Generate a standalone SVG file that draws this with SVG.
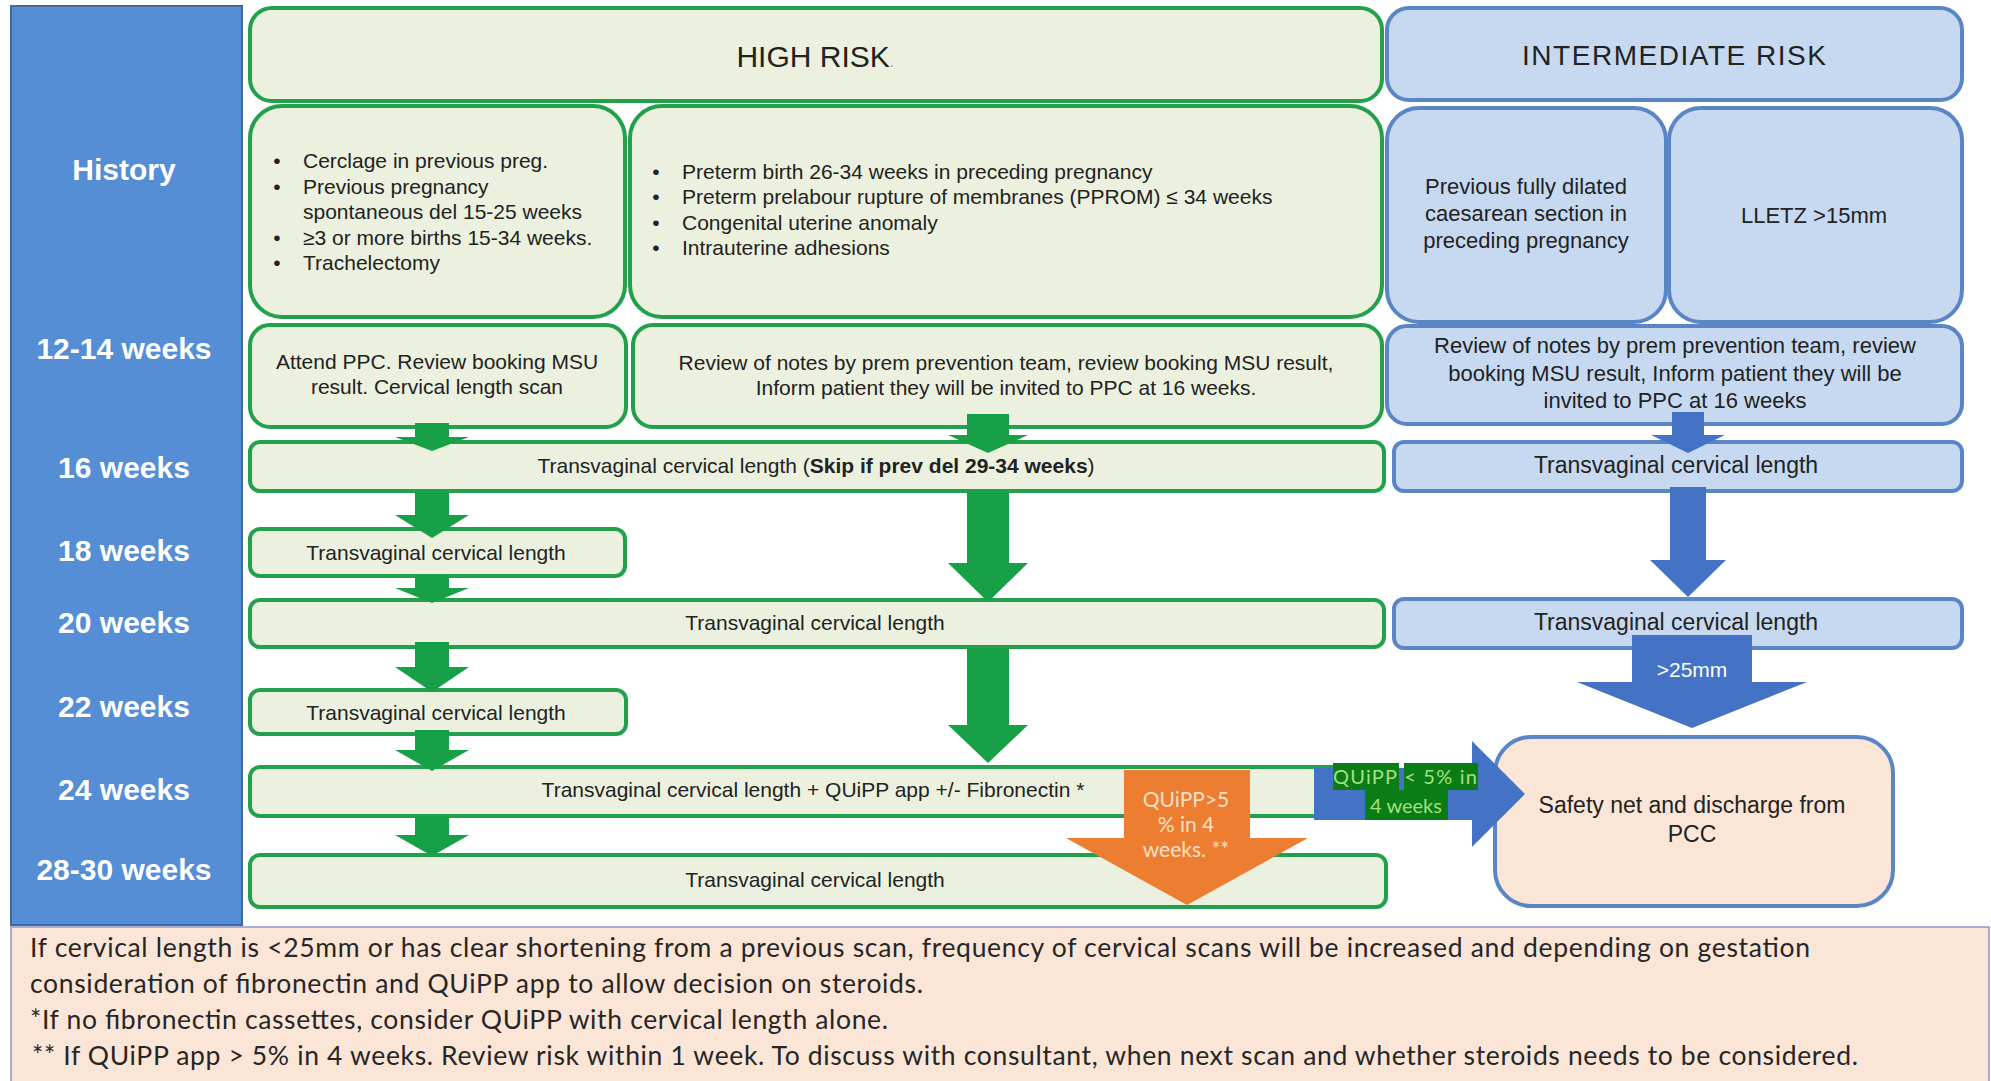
<svg xmlns="http://www.w3.org/2000/svg" width="1991" height="1081" viewBox="0 0 1991 1081" xml:space="preserve">
<defs>
<style>
.gbox{fill:#ebf1de;stroke:#22a04b;stroke-width:4}
.bbox{fill:#c6d9f1;stroke:#5a86c6;stroke-width:4}
.pbox{fill:#fbe5d6;stroke:#5a86c6;stroke-width:4}
.t{font-family:"Liberation Sans",Arial,sans-serif;fill:#222;font-size:21px}
.tc{text-anchor:middle}
.s22{font-size:22px}
.s23{font-size:23px}
.s28{font-size:28px}
.s30{font-size:30px}
.lbl{font-family:"Liberation Sans",Arial,sans-serif;font-weight:bold;font-size:30px;fill:#fff;text-anchor:middle}
.note{font-family:Lato,"Open Sans",sans-serif;font-size:26.5px;fill:#262626}
.garrow{fill:#17a048}
.barrow{fill:#4472c4}
.oarrow{fill:#ed7d31}
.otxt{font-family:Lato,"Open Sans",sans-serif;font-size:21px;fill:#fbe0c8;text-anchor:middle}
.qtxt{font-family:Lato,"Open Sans",sans-serif;font-size:20px;fill:#a3e07f;text-anchor:middle}
</style>
</defs>
<rect x="0" y="0" width="1991" height="1081" fill="#ffffff"/>

<g id="timeline">
<rect x="11" y="6" width="231" height="919" fill="#558ed5" stroke="#41699f" stroke-width="2"/>
<text class="lbl" x="124" y="180">History</text>
<text class="lbl" x="124" y="359">12-14 weeks</text>
<text class="lbl" x="124" y="478">16 weeks</text>
<text class="lbl" x="124" y="561">18 weeks</text>
<text class="lbl" x="124" y="633">20 weeks</text>
<text class="lbl" x="124" y="717">22 weeks</text>
<text class="lbl" x="124" y="800">24 weeks</text>
<text class="lbl" x="124" y="880">28-30 weeks</text>
</g>

<g id="high-risk-header">
<rect class="gbox" x="250" y="8" width="1132" height="93" rx="22"/>
<text class="t tc s30" x="815" y="67">HIGH RISK<tspan style="font-size:14px;fill:#888">.</tspan></text>
</g>
<g id="intermediate-risk-header">
<rect class="bbox" x="1387" y="8" width="575" height="92" rx="22"/>
<text class="t tc s28" x="1674" y="65" textLength="304">INTERMEDIATE RISK</text>
</g>

<g id="history-high-1">
<rect class="gbox" x="250" y="106" width="375" height="211" rx="32"/>
<text class="t tc" x="277" y="168">•</text><text class="t" x="303" y="168">Cerclage  in previous  preg.</text>
<text class="t tc" x="277" y="194">•</text><text class="t" x="303" y="194">Previous  pregnancy</text>
<text class="t" x="303" y="219">spontaneous  del  15-25 weeks</text>
<text class="t tc" x="277" y="245">•</text><text class="t" x="303" y="245">≥3 or more births 15-34 weeks.</text>
<text class="t tc" x="277" y="270">•</text><text class="t" x="303" y="270">Trachelectomy</text>
</g>
<g id="history-high-2">
<rect class="gbox" x="630" y="106" width="752" height="211" rx="32"/>
<text class="t tc" x="656" y="179">•</text><text class="t" x="682" y="179">Preterm birth 26-34  weeks in preceding  pregnancy</text>
<text class="t tc" x="656" y="204">•</text><text class="t" x="682" y="204">Preterm prelabour  rupture of membranes  (PPROM) ≤ 34 weeks</text>
<text class="t tc" x="656" y="230">•</text><text class="t" x="682" y="230">Congenital  uterine anomaly</text>
<text class="t tc" x="656" y="255">•</text><text class="t" x="682" y="255">Intrauterine  adhesions</text>
</g>
<g id="history-int-1">
<rect class="bbox" x="1387" y="108" width="279" height="214" rx="32"/>
<text class="t tc s22" x="1526" y="194">Previous fully dilated</text>
<text class="t tc s22" x="1526" y="221">caesarean section in</text>
<text class="t tc s22" x="1526" y="248">preceding pregnancy</text>
</g>
<g id="history-int-2">
<rect class="bbox" x="1669" y="108" width="293" height="214" rx="32"/>
<text class="t tc s22" x="1814" y="223">LLETZ  &gt;15mm</text>
</g>

<g id="w12-high-1">
<rect class="gbox" x="250" y="325" width="376" height="102" rx="20"/>
<text class="t tc" x="437" y="369">Attend PPC. Review  booking MSU</text>
<text class="t tc" x="437" y="394">result. Cervical  length scan</text>
</g>
<g id="w12-high-2">
<rect class="gbox" x="633" y="325" width="749" height="102" rx="20"/>
<text class="t tc" x="1006" y="370">Review  of notes by prem prevention  team, review  booking MSU result,</text>
<text class="t tc" x="1006" y="395">Inform  patient they will  be invited to PPC  at 16 weeks.</text>
</g>
<g id="w12-int">
<rect class="bbox" x="1387" y="326" width="575" height="98" rx="20"/>
<text class="t tc s22" x="1675" y="353">Review of notes by prem prevention  team, review</text>
<text class="t tc s22" x="1675" y="381">booking MSU  result, Inform patient they will be</text>
<text class="t tc s22" x="1675" y="408">invited to PPC  at 16 weeks</text>
</g>

<g id="w16-high">
<rect class="gbox" x="250" y="442" width="1134" height="49" rx="10"/>
<text class="t tc" x="816" y="473">Transvaginal  cervical length (<tspan font-weight="bold">Skip if prev del 29-34 weeks</tspan>)</text>
</g>
<g id="w16-int">
<rect class="bbox" x="1394" y="442" width="568" height="49" rx="10"/>
<text class="t tc s23" x="1676" y="473">Transvaginal cervical length</text>
</g>
<g id="w18-high">
<rect class="gbox" x="250" y="529" width="375" height="47" rx="10"/>
<text class="t tc" x="436" y="560">Transvaginal  cervical length</text>
</g>
<g id="w20-high">
<rect class="gbox" x="250" y="600" width="1134" height="47" rx="10"/>
<text class="t tc" x="815" y="630">Transvaginal  cervical length</text>
</g>
<g id="w20-int">
<rect class="bbox" x="1394" y="599" width="568" height="49" rx="10"/>
<text class="t tc s23" x="1676" y="630">Transvaginal cervical length</text>
</g>
<g id="w22-high">
<rect class="gbox" x="250" y="690" width="376" height="44" rx="10"/>
<text class="t tc" x="436" y="720">Transvaginal  cervical length</text>
</g>
<g id="w24-high">
<rect class="gbox" x="250" y="767" width="1134" height="49" rx="10"/>
<text class="t tc" x="813" y="797">Transvaginal  cervical length + QUiPP app +/- Fibronectin  *</text>
</g>
<g id="w28-high">
<rect class="gbox" x="250" y="855" width="1136" height="52" rx="10"/>
<text class="t tc" x="815" y="887">Transvaginal  cervical length</text>
</g>
<g id="safety-net">
<rect class="pbox" x="1495" y="737" width="398" height="169" rx="36"/>
<text class="t tc s23" x="1692" y="813">Safety net and discharge from</text>
<text class="t tc s23" x="1692" y="842">PCC</text>
</g>

<g id="connectors">
<polygon class="garrow" points="415,423 449,423 449,437 469,437 432,451 395,437 415,437"/>
<polygon class="garrow" points="415,490 449,490 449,515 469,515 432,538 395,515 415,515"/>
<polygon class="garrow" points="415,575 449,575 449,588 469,588 432,603 395,588 415,588"/>
<polygon class="garrow" points="415,642 449,642 449,667 469,667 432,692 395,667 415,667"/>
<polygon class="garrow" points="415,730 449,730 449,750 469,750 432,771 395,750 415,750"/>
<polygon class="garrow" points="415,816 449,816 449,835 469,835 432,856 395,835 415,835"/>
<polygon class="garrow" points="967,414 1009,414 1009,435 1028,435 988,453 948,435 967,435"/>
<polygon class="garrow" points="967,490 1009,490 1009,563 1028,563 988,602 948,563 967,563"/>
<polygon class="garrow" points="967,648 1009,648 1009,725 1028,725 988,763 948,725 967,725"/>
<polygon class="barrow" points="1672,412 1704,412 1704,435 1725,435 1688,453 1651,435 1672,435"/>
<polygon class="barrow" points="1670,487 1706,487 1706,560 1726,560 1688,597 1650,560 1670,560"/>
<polygon class="barrow" points="1632,635 1752,635 1752,682 1807,682 1692,728 1577,682 1632,682"/>
<text x="1692" y="677" font-family="Liberation Sans,Arial,sans-serif" font-size="21" fill="#ffffff" text-anchor="middle">&gt;25mm</text>
<polygon class="barrow" points="1314,768 1472,768 1472,741 1525,794 1472,847 1472,820 1314,820"/>
<rect x="1333" y="763" width="66" height="27" fill="#0a7d17"/>
<rect x="1404" y="763" width="74" height="27" fill="#0a7d17"/>
<rect x="1365" y="790" width="83" height="30" fill="#0a7d17"/>
<text class="qtxt" x="1405" y="784" textLength="144">QUiPP &lt; 5% in</text>
<text class="qtxt" x="1406" y="813">4 weeks</text>
<polygon class="oarrow" points="1124,770 1250,770 1250,838 1308,838 1187,905 1066,838 1124,838"/>
<text class="otxt" x="1186" y="807">QUiPP&gt;5</text>
<text class="otxt" x="1186" y="832">% in 4</text>
<text class="otxt" x="1186" y="857">weeks. **</text>
</g>

<g id="notes">
<rect x="11" y="927" width="1978" height="160" fill="#fbe5d6" stroke="#8f95c5" stroke-width="1.5"/>
<text class="note" x="30" y="957" textLength="1780">If cervical length is &lt;25mm or has clear shortening from a previous scan, frequency of cervical scans will be increased and depending on gestation</text>
<text class="note" x="30" y="993" textLength="893">consideration of fibronectin and QUiPP app to allow decision on steroids.</text>
<text class="note" x="30" y="1029" textLength="858">*If no fibronectin cassettes, consider QUiPP with cervical length alone.</text>
<text class="note" x="32" y="1065" textLength="1826">** If QUiPP app &gt; 5% in 4 weeks. Review risk within 1 week. To discuss with consultant, when next scan and whether steroids needs to be considered.</text>
</g>
</svg>
